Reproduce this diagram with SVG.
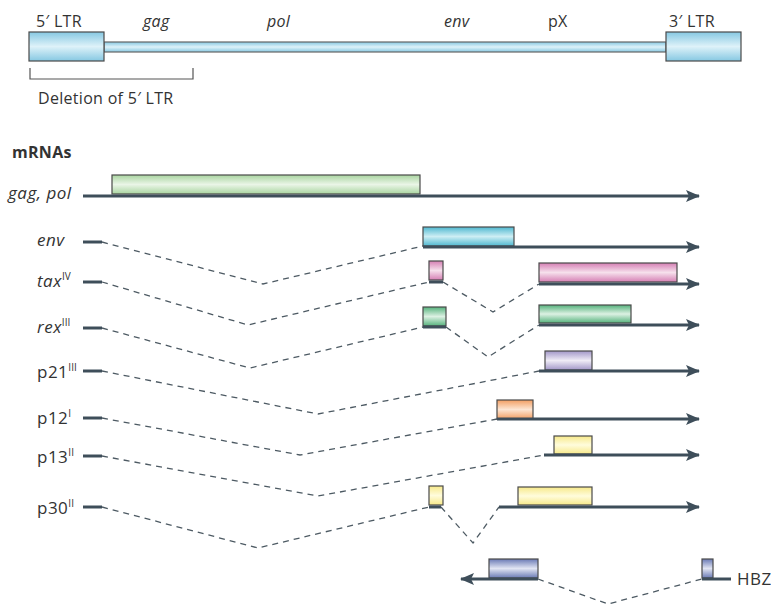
<svg xmlns="http://www.w3.org/2000/svg" width="771" height="606" viewBox="0 0 771 606">
<style>
text{font-family:"Open Sans","Noto Sans","Liberation Sans",sans-serif;fill:#333;font-size:16px;letter-spacing:0.3px}
.lbl{font-size:17px;letter-spacing:0.5px}
.it{font-style:italic}
.rna{stroke:#3e4e5a;stroke-width:3;fill:none}
.arr{marker-end:url(#ah)}
.dash{stroke:#4d5a63;stroke-width:1.3;stroke-dasharray:6 5;fill:none}
.box{stroke:#4a4a4a;stroke-width:1.2}
.sup{font-size:10px;letter-spacing:0}
</style>
<defs>
<marker id="ah" markerUnits="userSpaceOnUse" markerWidth="14" markerHeight="12" refX="13" refY="6" orient="auto">
<path d="M0,0 L14,6 L0,12 L3,6 Z" fill="#3e4e5a"/>
</marker>
<linearGradient id="gLtr" x1="0" y1="0" x2="0" y2="1"><stop offset="0" stop-color="#86c8e2"/><stop offset="0.5" stop-color="#def2f9"/><stop offset="1" stop-color="#86c8e2"/></linearGradient>
<linearGradient id="gGreen" x1="0" y1="0" x2="0" y2="1"><stop offset="0" stop-color="#a9d5a0"/><stop offset="0.5" stop-color="#eaf5e7"/><stop offset="1" stop-color="#a9d5a0"/></linearGradient>
<linearGradient id="gCyan" x1="0" y1="0" x2="0" y2="1"><stop offset="0" stop-color="#4fb8d0"/><stop offset="0.5" stop-color="#cdeef4"/><stop offset="1" stop-color="#4fb8d0"/></linearGradient>
<linearGradient id="gPink" x1="0" y1="0" x2="0" y2="1"><stop offset="0" stop-color="#d57fb4"/><stop offset="0.5" stop-color="#f6e0ec"/><stop offset="1" stop-color="#d57fb4"/></linearGradient>
<linearGradient id="gRex" x1="0" y1="0" x2="0" y2="1"><stop offset="0" stop-color="#55b27c"/><stop offset="0.5" stop-color="#dcf1e3"/><stop offset="1" stop-color="#55b27c"/></linearGradient>
<linearGradient id="gPurp" x1="0" y1="0" x2="0" y2="1"><stop offset="0" stop-color="#a297c8"/><stop offset="0.5" stop-color="#efecf6"/><stop offset="1" stop-color="#a297c8"/></linearGradient>
<linearGradient id="gOr" x1="0" y1="0" x2="0" y2="1"><stop offset="0" stop-color="#f29e62"/><stop offset="0.5" stop-color="#fde6d4"/><stop offset="1" stop-color="#f29e62"/></linearGradient>
<linearGradient id="gYel" x1="0" y1="0" x2="0" y2="1"><stop offset="0" stop-color="#f7e98a"/><stop offset="0.5" stop-color="#fffcdc"/><stop offset="1" stop-color="#f7e98a"/></linearGradient>
<linearGradient id="gHbz" x1="0" y1="0" x2="0" y2="1"><stop offset="0" stop-color="#6a7ab5"/><stop offset="0.5" stop-color="#e1e5f3"/><stop offset="1" stop-color="#6a7ab5"/></linearGradient>
</defs>

<g id="genome">
<rect x="104" y="42" width="562" height="10" fill="url(#gLtr)" stroke="#666" stroke-width="1.2"/>
<rect class="box" x="29" y="32" width="75" height="29" fill="url(#gLtr)"/>
<rect class="box" x="666" y="32" width="75" height="29" fill="url(#gLtr)"/>
<text x="36" y="27">5′ LTR</text>
<text class="it" x="143" y="27">gag</text>
<text class="it" x="267" y="27">pol</text>
<text class="it" x="444" y="27">env</text>
<text x="548" y="27">pX</text>
<text x="669" y="27">3′ LTR</text>
</g>

<g id="deletion">
<path d="M30,68 V79 H193 V68" fill="none" stroke="#555" stroke-width="1.2"/>
<text x="38" y="104">Deletion of 5′ LTR</text>
</g>

<text x="12" y="158" style="font-weight:bold;font-size:16px">mRNAs</text>

<g id="connectors">
<path class="dash" d="M102,242 L263,284 L423,246"/>
<path class="dash" d="M102,282 L248,325 L429,282"/>
<path class="dash" d="M443,282 L493,312 L539,284"/>
<path class="dash" d="M102,328 L250,368 L423,327"/>
<path class="dash" d="M446,327 L488,357 L539,325"/>
<path class="dash" d="M102,371 L318,414 L539,371"/>
<path class="dash" d="M102,418 L300,455 L497,419"/>
<path class="dash" d="M102,456 L318,496 L544,455"/>
<path class="dash" d="M102,507 L258,548 L429,507"/>
<path class="dash" d="M441,507 L473,543 L499,507"/>
<path class="dash" d="M538,579 L608,604 L702,579"/>
</g>

<g id="gagpol">
<text class="it lbl" x="8" y="199">gag, pol</text>
<rect class="box" x="112" y="175" width="308" height="19" fill="url(#gGreen)"/>
<path class="rna arr" d="M83,196 H699"/>
</g>

<g id="env">
<text class="it lbl" x="37" y="246">env</text>
<path class="rna" d="M83,242 H102"/>
<rect class="box" x="423" y="227" width="91" height="19" fill="url(#gCyan)"/>
<path class="rna arr" d="M423,247 H699"/>
</g>

<g id="tax">
<text class="lbl" x="37" y="287"><tspan class="it">tax</tspan><tspan class="sup" dy="-7">IV</tspan></text>
<path class="rna" d="M83,282 H102"/>
<rect class="box" x="429" y="261" width="14" height="19" fill="url(#gPink)"/>
<path class="rna" d="M429,282 H443"/>
<rect class="box" x="539" y="263" width="138" height="19" fill="url(#gPink)"/>
<path class="rna arr" d="M539,284 H699"/>
</g>

<g id="rex">
<text class="lbl" x="37" y="333"><tspan class="it">rex</tspan><tspan class="sup" dy="-7">III</tspan></text>
<path class="rna" d="M83,328 H102"/>
<rect class="box" x="423" y="307" width="23" height="19" fill="url(#gRex)"/>
<path class="rna" d="M423,327 H446"/>
<rect class="box" x="539" y="305" width="92" height="18" fill="url(#gRex)"/>
<path class="rna arr" d="M539,325 H699"/>
</g>

<g id="p21">
<text class="lbl" x="37" y="378">p21<tspan class="sup" dy="-7">III</tspan></text>
<path class="rna" d="M83,371 H102"/>
<rect class="box" x="545" y="351" width="47" height="19" fill="url(#gPurp)"/>
<path class="rna arr" d="M539,371 H699"/>
</g>

<g id="p12">
<text class="lbl" x="37" y="424">p12<tspan class="sup" dy="-7">I</tspan></text>
<path class="rna" d="M83,418 H102"/>
<rect class="box" x="497" y="400" width="36" height="19" fill="url(#gOr)"/>
<path class="rna arr" d="M497,419 H699"/>
</g>

<g id="p13">
<text class="lbl" x="37" y="463">p13<tspan class="sup" dy="-7">II</tspan></text>
<path class="rna" d="M83,456 H102"/>
<rect class="box" x="554" y="436" width="38" height="18" fill="url(#gYel)"/>
<path class="rna arr" d="M544,455 H699"/>
</g>

<g id="p30">
<text class="lbl" x="37" y="514">p30<tspan class="sup" dy="-7">II</tspan></text>
<path class="rna" d="M83,507 H102"/>
<rect class="box" x="429" y="486" width="14" height="19" fill="url(#gYel)"/>
<path class="rna" d="M429,507 H441"/>
<rect class="box" x="518" y="487" width="74" height="18" fill="url(#gYel)"/>
<path class="rna arr" d="M499,507 H699"/>
</g>

<g id="hbz">
<rect class="box" x="489" y="559" width="49" height="19" fill="url(#gHbz)"/>
<path class="rna arr" d="M538,579 H461"/>
<rect class="box" x="702" y="559" width="11" height="19" fill="url(#gHbz)"/>
<path class="rna" d="M702,579 H731"/>
<text class="lbl" x="737" y="585">HBZ</text>
</g>
</svg>
